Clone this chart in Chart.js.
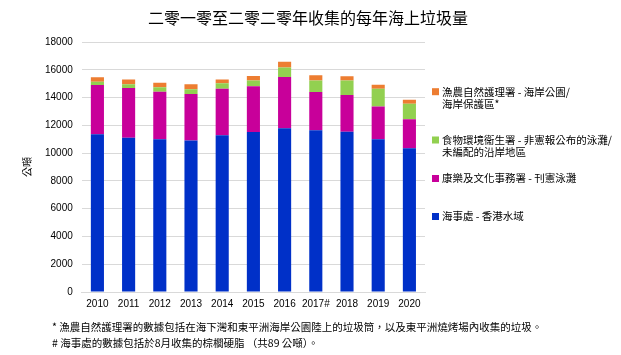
<!DOCTYPE html>
<html><head><meta charset="utf-8">
<script src="https://cdn.jsdelivr.net/npm/chart.js@4/dist/chart.umd.min.js"></script>
<style>html,body{margin:0;padding:0;background:#fff;}#wrap{width:621px;height:355px;position:relative;}</style>
</head><body><div id="wrap"><canvas id="c" width="621" height="355"></canvas></div>
<script>
const years = ['2010','2011','2012','2013','2014','2015','2016','2017#','2018','2019','2020'];
const marine = [11350,11110,10990,10915,11280,11520,11785,11640,11545,10990,10350];
const lcsd = [3555,3580,3430,3340,3360,3290,3700,2760,2635,2370,2090];
const fehd = [240,265,315,340,390,410,680,820,1040,1280,1110];
const afcd = [315,340,340,360,265,340,410,390,315,290,290];
const yTicks = [0,2000,4000,6000,8000,10000,12000,14000,16000,18000];
const titleText = '二零一零至二零二零年收集的每年海上垃圾量';
const yTitle = '公噸';
const seriesNames = [
  ['海事處 - 香港水域'],
  ['康樂及文化事務署 - 刊憲泳灘'],
  ['食物環境衞生署 - 非憲報公布的泳灘/','未編配的沿岸地區'],
  ['漁農自然護理署 - 海岸公園/','海岸保護區*']
];
const notes = [
  '* 漁農自然護理署的數據包括在海下灣和東平洲海岸公園陸上的垃圾筒，以及東平洲燒烤場內收集的垃圾。',
  '# 海事處的數據包括於8月收集的棕櫚硬脂 （共89 公噸）。'
];
const colors = ['#0030c8','#c8009a','#92d050','#ed7d31'];
const CJK = '"Noto Sans CJK TC","Noto Sans CJK SC",sans-serif';
const LAT = '"Liberation Sans","DejaVu Sans",sans-serif';

const extras = {
  id:'extras',
  afterDraw(chart){
    const ctx = chart.ctx;
    ctx.save();
    ctx.fillStyle = '#000';
    ctx.textBaseline = 'middle';
    // title
    ctx.textAlign = 'center';
    ctx.font = '16px ' + CJK;
    ctx.fillText(titleText, 308, 18);
    ctx.textAlign = 'left';
    // legend (reverse order)
    const pos = [216.5,178.5,140,91.7];
    chart.data.datasets.forEach((ds,i)=>{
      const y = pos[i];
      ctx.fillStyle = ds.backgroundColor;
      ctx.fillRect(432, y-3.5, 7, 7);
      ctx.fillStyle = '#000';
      ctx.font = '10.5px ' + CJK;
      ds.legendLines.forEach((t,k)=>{
        ctx.fillText(t, 442, y + k*12);
      });
    });
    // footnotes
    ctx.font = '10.5px ' + CJK;
    ctx.fillText(notes[0], 52, 327);
    ctx.fillText(notes[1], 52, 343);
    ctx.restore();
  }
};

new Chart(document.getElementById('c'), {
  type:'bar',
  data:{
    labels: years,
    datasets:[marine,lcsd,fehd,afcd].map((d,i)=>({
      label: seriesNames[i].join(''),
      legendLines: seriesNames[i],
      data: d,
      backgroundColor: colors[i],
      borderWidth: 0,
      barPercentage: 0.42,
      categoryPercentage: 1.0
    }))
  },
  options:{
    responsive:false,
    animation:false,
    layout:{padding:{left:15,right:196,top:42,bottom:39}},
    plugins:{
      legend:{display:false},
      tooltip:{enabled:false},
      title:{display:false}
    },
    scales:{
      x:{stacked:true,grid:{display:false,drawTicks:false},border:{display:true,color:'#d9d9d9'},
         ticks:{color:'#000',font:{family:LAT,size:10},padding:6,autoSkip:false,maxRotation:0}},
      y:{stacked:true,min:0,max:18000,
         afterBuildTicks(ax){ax.ticks = yTicks.map(v=>({value:v}));},
         grid:{color:'#d9d9d9',drawTicks:false},border:{display:false},
         ticks:{color:'#000',font:{family:LAT,size:10},padding:9,callback:(v)=>String(v)},
         title:{display:true,text:yTitle,color:'#000',font:{family:CJK,size:10},padding:{top:6,bottom:3}}}
    }
  },
  plugins:[extras]
});
</script></body></html>
